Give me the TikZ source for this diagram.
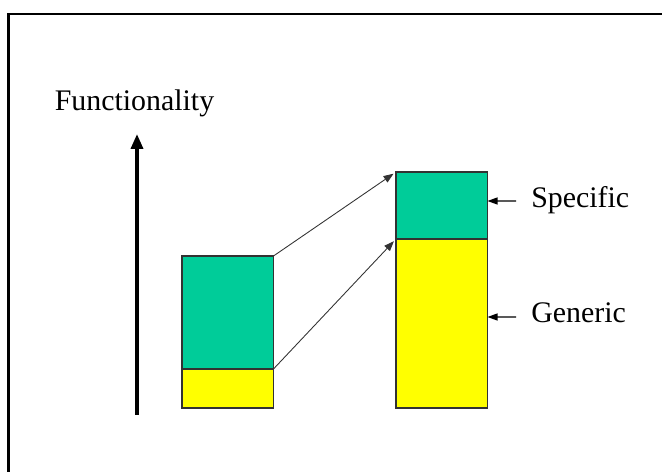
\documentclass[tikz,border=0pt]{standalone}
\usepackage{fontspec}
\setmainfont{Liberation Serif}
\usetikzlibrary{arrows.meta}

\definecolor{specgreen}{RGB}{0,204,153}
\definecolor{genyellow}{RGB}{255,255,0}
\definecolor{edgegray}{RGB}{50,50,50}

\begin{document}
\begin{tikzpicture}[font=\fontsize{17}{20}\selectfont,
    part/.style={draw=edgegray,line width=0.8pt,anchor=south west,
      minimum width=1.83cm,inner sep=0pt,outer sep=0pt},
    spec/.style={part,fill=specgreen},
    gen/.style={part,fill=genyellow},
    link/.style={draw=black!80,line width=0.5pt,shorten >=0.06cm,
      -{Triangle[length=0.2cm,width=0.15cm]}},
    pointer/.style={line width=0.7pt,-{Triangle[length=0.2cm,width=0.14cm]}}]
  \useasboundingbox (0,0) rectangle (13.24,9.44);

  % frame: only top and left edges are in view
  \draw[line width=1.2pt] (0.17,0) -- (0.17,9.16) -- (13.24,9.16);

  % functionality axis
  \coordinate (axbot) at (2.74,1.14);
  \coordinate (axtop) at (2.74,6.76);
  \draw[line width=2pt,-{Triangle[length=0.3cm,width=0.24cm]}] (axbot) -- (axtop);
  \node (axis) at (2.69,7.38) {Functionality};

  % before
  \node[gen,minimum height=0.78cm] (lgen) at (3.64,1.28) {};
  \node[spec,minimum height=2.26cm] (lspec) at (lgen.north west) {};
  % after
  \node[gen,minimum height=3.38cm] (rgen) at (7.92,1.28) {};
  \node[spec,minimum height=1.34cm] (rspec) at (rgen.north west) {};

  \draw[link] (lspec.north east) -- (rspec.north west);
  \draw[link] (lgen.north east) -- (rgen.north west);

  % labels
  \node[anchor=west,inner sep=0pt] (speclbl) at (10.62,5.44) {Specific};
  \node[anchor=west,inner sep=0pt] (genlbl) at (10.62,3.18) {Generic};
  \draw[pointer] ([xshift=-0.3cm,yshift=-0.02cm]speclbl.west) -- (rspec.east |- {0,5.42});
  \draw[pointer] ([xshift=-0.3cm,yshift=-0.08cm]genlbl.west) -- (rgen.east |- {0,3.10});
\end{tikzpicture}
\end{document}
